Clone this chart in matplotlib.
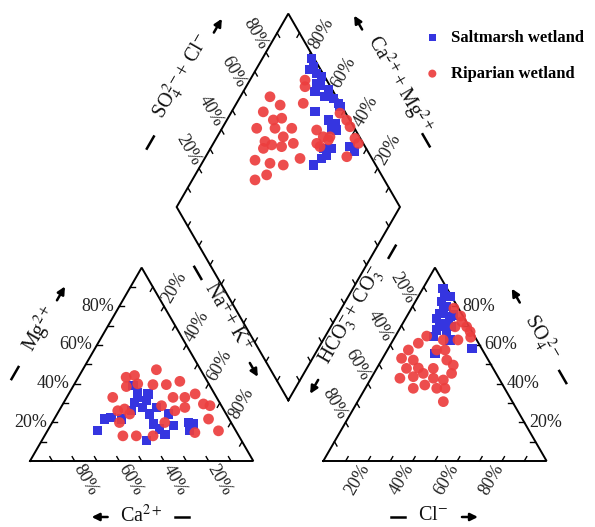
import numpy as np
import matplotlib.pyplot as plt

plt.rcParams['font.family'] = ['Liberation Serif', 'DejaVu Serif']
plt.rcParams['mathtext.fontset'] = 'stix'

# ---------------- data (percent of meq) ----------------
# Cation triangle: Mg2+ and Na+ + K+ (Ca2+ is the remainder)
cat_mg_salt = [15.6, 21.7, 22.5, 21.7, 39.0, 30.3, 32.9, 31.2, 27.7, 24.3, 19.1, 16.5,
               13.9, 10.4, 27.7, 24.3, 18.2, 19.9, 19.1, 15.6, 26.0, 35.5, 34.7]
cat_nak_salt = [22.5, 22.5, 25.0, 30.1, 26.6, 31.6, 31.8, 36.5, 36.7, 41.5, 45.6, 49.9,
                53.5, 46.9, 42.7, 49.7, 55.0, 60.9, 63.6, 63.8, 32.4, 30.5, 35.5]
cat_mg_rip = [43.3, 44.2, 47.2, 39.5, 41.2, 39.5, 38.5, 39.9, 32.9, 26.0, 26.9, 19.9, 13.0, 13.0,
              28.6, 32.9, 32.9, 34.7, 29.5, 28.6, 26.0, 19.9, 21.7, 15.6, 14.7, 13.0, 24.3, 27.7]
cat_nak_rip = [21.4, 24.7, 33.0, 41.3, 46.5, 35.3, 23.9, 28.3, 20.6, 26.3, 28.9, 30.1, 35.1, 41.1,
               44.6, 47.6, 52.9, 56.6, 62.9, 66.3, 51.9, 50.4, 69.1, 76.6, 66.5, 48.6, 32.5, 55.5]

# Anion triangle: SO4 2- and Cl- (HCO3- + CO3 2- is the remainder)
an_so4_salt = [89.3, 85.0, 79.8, 82.4, 79.0, 76.4, 73.8, 71.2, 69.4, 74.6,
               69.4, 67.7, 67.7, 64.3, 62.6, 55.7, 58.3, 75.5, 71.2, 85.3]
an_cl_salt = [9.0, 14.2, 15.4, 11.8, 14.2, 14.1, 13.9, 17.4, 17.6, 19.4,
              22.8, 16.9, 21.4, 17.2, 25.4, 22.2, 37.4, 20.5, 20.4, 11.8]
an_so4_rip = [79.0, 75.0, 72.0, 69.4, 66.9, 64.0, 69.4, 62.6, 57.4, 57.4, 52.2, 49.6, 45.3, 41.9,
              42.8, 37.6, 37.6, 30.7, 64.6, 60.9, 57.4, 53.1, 52.2, 47.9, 42.8, 43.6, 45.3, 39.3,
              37.6, 48.1, 47.9, 62.6]
an_cl_rip = [19.0, 24.0, 26.0, 29.5, 32.3, 34.0, 24.3, 22.4, 22.1, 25.8, 29.2, 33.4, 34.8, 32.8,
             27.9, 32.0, 35.7, 38.4, 14.0, 12.1, 9.4, 8.5, 14.2, 13.3, 12.9, 18.5, 22.1, 25.8,
             21.5, 18.5, 25.3, 29.0]

# Central diamond: Na+ + K+ and SO4 2- + Cl-
dia_nak_salt = [22.1, 24.9, 28.2, 31.3, 32.7, 37.7, 37.9, 42.1, 45.6, 47.2, 32.2, 37.3, 45.5,
                49.3, 51.8, 49.5, 54.3, 53.8, 52.4, 50.4, 62.1, 65.5, 50.5, 24.3, 30.7]
dia_so4cl_salt = [98.9, 97.5, 97.3, 98.7, 95.7, 98.2, 95.0, 98.2, 99.2, 99.1, 91.8, 86.6, 90.5,
                  92.6, 91.6, 89.4, 84.6, 80.6, 77.5, 72.1, 93.2, 94.1, 80.8, 95.2, 94.7]
dia_nak_rip = [13.3, 20.0, 14.2, 24.1, 20.8, 15.5, 23.7, 31.2, 29.6, 22.6, 26.5, 31.4, 35.8, 23.7,
               23.0, 30.5, 36.9, 42.7, 32.0, 28.1, 26.4, 29.9, 24.7, 42.8, 46.3, 47.5, 50.5, 48.6,
               48.9, 53.7, 56.9, 62.1, 64.9, 63.2, 50.6]
dia_so4cl_rip = [70.3, 72.7, 63.4, 70.0, 65.8, 56.2, 64.4, 71.9, 65.9, 56.5, 58.6, 62.6, 68.7, 54.0,
                 47.2, 53.1, 58.6, 67.8, 48.6, 42.1, 88.6, 83.5, 90.3, 82.6, 79.2, 83.8, 86.8, 79.8,
                 97.4, 98.6, 98.4, 97.6, 97.8, 89.2, 85.3]

groups = ['Saltmarsh wetland', 'Riparian wetland']
tick_values = [20, 40, 60, 80]

# ---------------- geometry ----------------
H = np.sqrt(3) / 2
GAP = 0.3135

L0, L1, LT = np.array([0.0, 0.0]), np.array([1.0, 0.0]), np.array([0.5, H])
R0, R1, RT = np.array([1 + GAP, 0.0]), np.array([2 + GAP, 0.0]), np.array([1.5 + GAP, H])
DB = np.array([1 + GAP / 2, GAP * H])
DL, DR, DT = DB + [-0.5, H], DB + [0.5, H], DB + [0.0, 2 * H]


def cation_xy(mg, nak):
    mg, nak = np.asarray(mg) / 100, np.asarray(nak) / 100
    return nak + mg / 2, mg * H


def anion_xy(so4, cl):
    so4, cl = np.asarray(so4) / 100, np.asarray(cl) / 100
    return 1 + GAP + cl + so4 / 2, so4 * H


def diamond_xy(nak, so4cl):
    c, a = np.asarray(nak) / 100, np.asarray(so4cl) / 100
    return (1 + GAP + a + c) / 2, (1 + GAP + a - c) * H


PX = 223.3  # pixels per unit side
fig = plt.figure(figsize=(5.95, 5.27), dpi=100)
ax = fig.add_axes([0, 0, 1, 1])
ax.set_xlim(-30 / PX, 565 / PX)
ax.set_ylim(-66 / PX, 461 / PX)
ax.axis('off')

LW = 1.4
for poly in ([L0, L1, LT, L0], [R0, R1, RT, R0], [DB, DR, DT, DL, DB]):
    p = np.array(poly)
    ax.plot(p[:, 0], p[:, 1], color='black', lw=LW, solid_joinstyle='miter', zorder=2)

TL = 5 / PX


def unit(v):
    v = np.asarray(v, dtype=float)
    return v / np.hypot(*v)


def edge_ticks(p_from, p_to, inward):
    d = unit(inward)
    for k in range(1, 10):
        p = p_from + k / 10 * (p_to - p_from)
        q = p + TL * d
        ax.plot([p[0], q[0]], [p[1], q[1]], color='black', lw=1.0, zorder=2)


def edge_labels(p_from, p_to, outward, gap=5 / PX, size=13):
    d = unit(outward)
    ang = np.degrees(np.arctan2(d[1], d[0]))
    ha = 'left'
    if ang > 90 or ang < -90:
        ang = ang - 180 if ang > 0 else ang + 180
        ha = 'right'
    for v in tick_values:
        p = p_from + v / 100 * (p_to - p_from) + gap * d
        ax.text(p[0], p[1], f'{v}%', rotation=ang, rotation_mode='anchor',
                ha=ha, va='center', fontsize=size, color='#222222')


# (from 0%, to 100%, inward grid direction, labelled?)
edges = [
    (L1, L0, (-0.5, H), True),     # Ca2+
    (L0, LT, (1, 0), True),        # Mg2+
    (LT, L1, (-0.5, -H), True),    # Na+ + K+
    (R0, R1, (0.5, H), True),      # Cl-
    (R1, RT, (-1, 0), True),       # SO4 2-
    (RT, R0, (0.5, -H), True),     # HCO3- + CO3 2-
    (DL, DT, (0.5, -H), True),     # SO4 + Cl (diamond)
    (DR, DT, (-0.5, -H), True),    # Ca + Mg (diamond)
    (DL, DB, (0.5, H), False),
    (DR, DB, (-0.5, H), False),
]
for p_from, p_to, inward, labelled in edges:
    edge_ticks(p_from, p_to, inward)
    if labelled:
        edge_labels(p_from, p_to, -np.asarray(inward))


def edge_title(p_from, p_to, normal, text, t_text, t_dash, t_arrow,
               d_text, d_mark, size=14.5):
    """Axis name with a bar before it and an arrow showing the increasing direction."""
    t = unit(p_to - p_from)
    n = unit(normal)
    mid = (p_from + p_to) / 2
    ang = np.degrees(np.arctan2(t[1], t[0]))
    if ang > 90:
        ang -= 180
    elif ang < -90:
        ang += 180
    pt = mid + t * t_text / PX + n * d_text / PX
    ax.text(pt[0], pt[1], text, rotation=ang, rotation_mode='anchor',
            ha='center', va='center', fontsize=size, color='#111111')
    pd = mid + t * t_dash / PX + n * d_mark / PX
    a, b = pd - t * 7 / PX, pd + t * 7 / PX
    ax.plot([a[0], b[0]], [a[1], b[1]], color='black', lw=1.8)
    pa = mid + t * t_arrow / PX + n * d_mark / PX
    ax.annotate('', xy=pa + t * 8 / PX, xytext=pa - t * 8 / PX,
                arrowprops=dict(arrowstyle='-|>', color='black', lw=1.8,
                                mutation_scale=11, shrinkA=0, shrinkB=0))


edge_title(L0, LT, (-H, 0.5), r'Mg$^{2+}$', 7, -43, 49, 57, 57)
edge_title(L1, L0, (0, -1), r'Ca$^{2+}$', 0, -40, 42, 55, 56)
edge_title(LT, L1, (H, 0.5), r'Na$^{+}$+ K$^{+}$', -25, -79, 33, 49, 46)
edge_title(R0, R1, (0, -1), r'Cl$^{-}$', -2, -37, 35, 55, 56)
edge_title(R1, RT, (H, 0.5), r'SO$_4^{\ 2-}$', -2, -47, 47, 57, 56)
edge_title(RT, R0, (-H, 0.5), r'HCO$_3^{-}$+ CO$_3^{-}$', -28, -104, 52, 48, 45)
edge_title(DL, DT, (-H, 0.5), r'SO$_4^{2-}$+ Cl$^{-}$', 4, -69, 66, 61, 55)
edge_title(DR, DT, (H, 0.5), r'Ca$^{2+}$+ Mg$^{2+}$', -5, -67, 69, 61, 56)

# ---------------- samples ----------------
BLUE, RED = '#3535E0', '#EC3E3E'
kw_s = dict(marker='s', s=44, color=BLUE, edgecolors='none', zorder=3)
kw_r = dict(marker='o', s=60, color=RED, edgecolors='none', alpha=0.92, zorder=4)

h_s = ax.scatter(*cation_xy(cat_mg_salt, cat_nak_salt), **kw_s)
ax.scatter(*anion_xy(an_so4_salt, an_cl_salt), **kw_s)
ax.scatter(*diamond_xy(dia_nak_salt, dia_so4cl_salt), **kw_s)
h_r = ax.scatter(*cation_xy(cat_mg_rip, cat_nak_rip), **kw_r)
ax.scatter(*anion_xy(an_so4_rip, an_cl_rip), **kw_r)
ax.scatter(*diamond_xy(dia_nak_rip, dia_so4cl_rip), **kw_r)

ax.legend([h_s, h_r], groups, loc='upper left',
          bbox_to_anchor=(424 / 595, 1 - 30 / 527), bbox_transform=fig.transFigure,
          frameon=False, prop={'family': 'Liberation Serif', 'weight': 'bold', 'size': 12},
          markerscale=0.75, handletextpad=0.6, labelspacing=1.2, handlelength=1.0,
          borderpad=0, borderaxespad=0)

fig.savefig('out.png', dpi=100)
